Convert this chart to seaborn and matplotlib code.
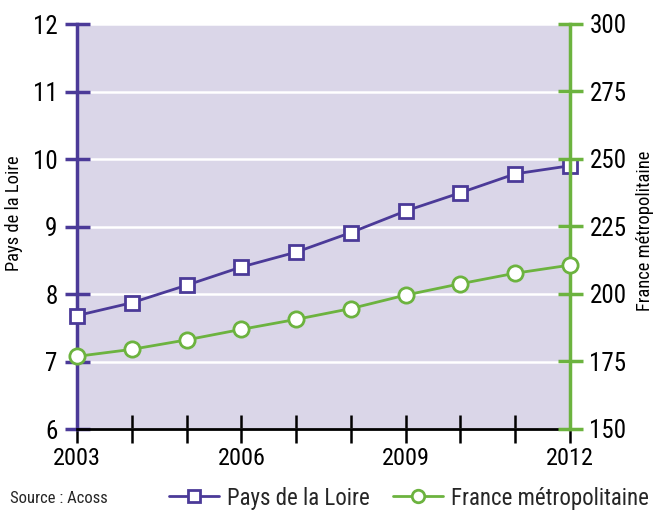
import matplotlib
matplotlib.use("Agg")
import matplotlib.pyplot as plt
from matplotlib import font_manager
import seaborn as sns
import pandas as pd
from matplotlib.lines import Line2D

years = [2003, 2004, 2005, 2006, 2007, 2008, 2009, 2010, 2011, 2012]
pays_loire = [7.68, 7.87, 8.13, 8.40, 8.62, 8.91, 9.23, 9.50, 9.78, 9.90]
france = [176.9, 179.5, 183.0, 186.9, 190.6, 194.6, 199.6, 203.8, 207.7, 210.7]
left_ticks = [6, 7, 8, 9, 10, 11, 12]
right_ticks = [150, 175, 200, 225, 250, 275, 300]
year_labels = ["2003", "", "", "2006", "", "", "2009", "", "", "2012"]

sns.set_theme(style="white")

names = sorted({f.name for f in font_manager.fontManager.ttflist})
condensed = [n for n in names if ("Narrow" in n or "Condensed" in n)]
fam = None
for pref in ["Liberation Sans Narrow", "Roboto Condensed", "Open Sans Condensed",
             "DejaVu Sans Condensed"]:
    if pref in names:
        fam = pref
        break
if fam is None and condensed:
    fam = condensed[0]
is_condensed = fam is not None
if fam is None:
    fam = "Roboto" if "Roboto" in names else "Liberation Sans"
plt.rcParams['font.family'] = [fam, 'DejaVu Sans']
if fam == "DejaVu Sans Condensed":
    plt.rcParams['font.stretch'] = 'condensed'

big = 18 if is_condensed else 17
leg = 16.5 if is_condensed else 14.5

PURPLE = "#4B3A98"
GREEN = "#6CB33F"
BG = "#DAD6E8"

df = pd.DataFrame({"year": years, "pdl": pays_loire, "fr": france})

fig = plt.figure(figsize=(6.54, 5.11), dpi=100)
ax = fig.add_axes([77/654, 82/511, 493/654, 405/511])
ax.set_facecolor(BG)
ax2 = ax.twinx()

sns.lineplot(data=df, x="year", y="pdl", ax=ax, color=PURPLE, lw=2,
             marker="s", markersize=10, markerfacecolor="white",
             markeredgecolor=PURPLE, markeredgewidth=2, zorder=5, clip_on=False)
sns.lineplot(data=df, x="year", y="fr", ax=ax2, color=GREEN, lw=2,
             marker="o", markersize=11, markerfacecolor="white",
             markeredgecolor=GREEN, markeredgewidth=2, zorder=5, clip_on=False)

ax.set_xlim(2003, 2012)
ax.set_ylim(6, 12)
ax2.set_ylim(150, 300)
ax.set_yticks(left_ticks)
ax.set_yticklabels([str(t) for t in left_ticks])
ax2.set_yticks(right_ticks)
ax2.set_yticklabels([str(t) for t in right_ticks])
ax.set_xticks(years)
ax.set_xticklabels(year_labels)

ax.grid(axis="y", color="white", lw=1.8)
ax.grid(axis="x", visible=False)
ax2.grid(False)
ax.set_axisbelow(True)

for a in (ax, ax2):
    a.spines["top"].set_visible(False)
ax.spines["right"].set_visible(False)
ax2.spines["left"].set_visible(False)
ax2.spines["bottom"].set_visible(False)
ax.spines["left"].set_color(PURPLE)
ax.spines["left"].set_linewidth(2.5)
ax2.spines["right"].set_color(GREEN)
ax2.spines["right"].set_linewidth(2.5)
ax.spines["bottom"].set_color("black")
ax.spines["bottom"].set_linewidth(2)

ax.tick_params(axis="y", direction="inout", length=18, width=2.5, color=PURPLE,
               labelsize=big, labelcolor="black", pad=5, left=True)
ax2.tick_params(axis="y", direction="inout", length=18, width=2.5, color=GREEN,
                labelsize=big, labelcolor="black", pad=5, right=True)
ax.tick_params(axis="x", direction="inout", length=20, width=1.8, color="black",
               labelsize=big - 0.5, labelcolor="black", pad=3, bottom=True)

ax.set_xlabel("")
ax.set_ylabel("Pays de la Loire", fontsize=13.3, color="black")
ax.yaxis.set_label_coords(-54/493, (429-213)/405)
ax2.set_ylabel("France métropolitaine", fontsize=13.3, color="black")
ax2.yaxis.set_label_coords(1 + 66/493, (429-231)/405)

handles = [
    Line2D([], [], color=PURPLE, lw=2, marker="s", markersize=9,
           markerfacecolor="white", markeredgecolor=PURPLE, markeredgewidth=2),
    Line2D([], [], color=GREEN, lw=2, marker="o", markersize=9,
           markerfacecolor="white", markeredgecolor=GREEN, markeredgewidth=2),
]
fig.legend(handles, ["Pays de la Loire", "France métropolitaine"], ncol=2,
           loc="center right", bbox_to_anchor=(649/654, 13/511), frameon=False,
           fontsize=leg, handlelength=2.2, handletextpad=0.35, columnspacing=1.0,
           borderpad=0, borderaxespad=0)
fig.text(10/654, 13/511, "Source : Acoss", fontsize=12, va="center", ha="left")

fig.savefig("out.png", dpi=100)
